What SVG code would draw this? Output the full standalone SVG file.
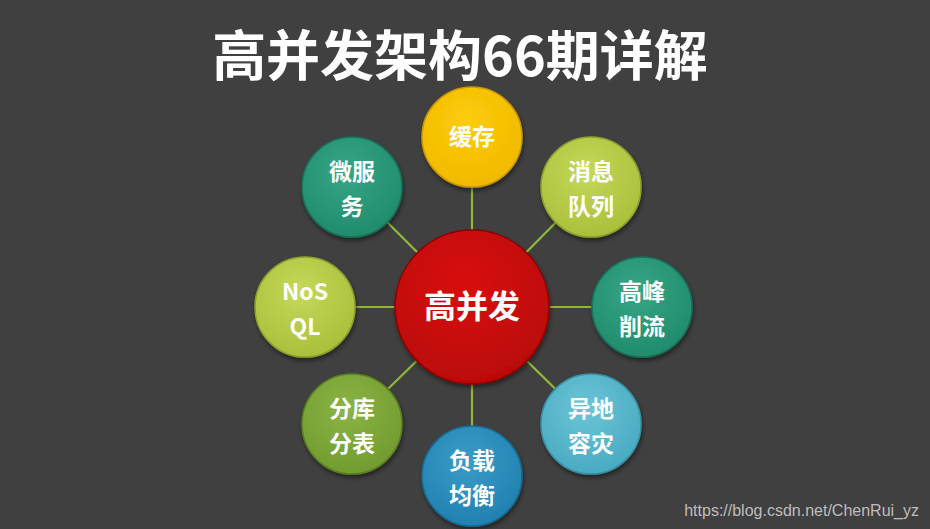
<svg xmlns="http://www.w3.org/2000/svg" width="930" height="529" viewBox="0 0 930 529">
<style>
.t{font-family:"Noto Sans CJK SC","Open Sans",sans-serif;font-weight:bold;fill:#fff;text-anchor:middle}
.n{font-size:23px}
.c{stroke-width:1.5}
.ln{stroke:#8fb83a;stroke-width:2.2}
</style>
<defs>
<filter id="sh" x="-20%" y="-20%" width="140%" height="140%"><feDropShadow dx="1" dy="3" stdDeviation="2" flood-color="#000" flood-opacity="0.45"/></filter>
<radialGradient id="gRed" cx="0.45" cy="0.35" r="0.7"><stop offset="0" stop-color="#d90d0d"/><stop offset="1" stop-color="#b80606"/></radialGradient>
<radialGradient id="gYel" cx="0.45" cy="0.35" r="0.7"><stop offset="0" stop-color="#fdcc0a"/><stop offset="1" stop-color="#f0b800"/></radialGradient>
<radialGradient id="gLime" cx="0.45" cy="0.35" r="0.7"><stop offset="0" stop-color="#c5d85a"/><stop offset="1" stop-color="#a8be38"/></radialGradient>
<radialGradient id="gTeal" cx="0.45" cy="0.35" r="0.7"><stop offset="0" stop-color="#36a685"/><stop offset="1" stop-color="#1f8a6a"/></radialGradient>
<radialGradient id="gCyan" cx="0.45" cy="0.35" r="0.7"><stop offset="0" stop-color="#6cc4d6"/><stop offset="1" stop-color="#46a9c0"/></radialGradient>
<radialGradient id="gBlue" cx="0.45" cy="0.35" r="0.7"><stop offset="0" stop-color="#3a9cc8"/><stop offset="1" stop-color="#1f7fae"/></radialGradient>
<radialGradient id="gGreen" cx="0.45" cy="0.35" r="0.7"><stop offset="0" stop-color="#8cb445"/><stop offset="1" stop-color="#6f9a2e"/></radialGradient>
</defs>
<rect width="930" height="529" fill="#404040"/>
<text class="t" x="460" y="76" font-size="54">高并发架构66期详解</text>
<g id="connectors">
<line class="ln" x1="472" y1="307" x2="472" y2="137"/>
<line class="ln" x1="472" y1="307" x2="591" y2="187"/>
<line class="ln" x1="472" y1="307" x2="642" y2="307"/>
<line class="ln" x1="472" y1="307" x2="591" y2="424"/>
<line class="ln" x1="472" y1="307" x2="472" y2="476"/>
<line class="ln" x1="472" y1="307" x2="352" y2="424"/>
<line class="ln" x1="472" y1="307" x2="305" y2="307"/>
<line class="ln" x1="472" y1="307" x2="352" y2="187"/>
</g>
<g id="center"><circle cx="472" cy="307" r="77" fill="url(#gRed)" stroke="#8e0505" class="c" filter="url(#sh)"/><text class="t" x="472" y="318" font-size="32">高并发</text></g>
<g id="cache"><circle cx="472" cy="137" r="50" fill="url(#gYel)" stroke="#c99800" class="c" filter="url(#sh)"/><text class="t n" x="472" y="145">缓存</text></g>
<g id="mq"><circle cx="591" cy="187" r="50" fill="url(#gLime)" stroke="#8ea02c" class="c" filter="url(#sh)"/><text class="t n" x="591" y="180">消息</text><text class="t n" x="591" y="215">队列</text></g>
<g id="peak"><circle cx="642" cy="307" r="50" fill="url(#gTeal)" stroke="#17705a" class="c" filter="url(#sh)"/><text class="t n" x="642" y="300">高峰</text><text class="t n" x="642" y="335">削流</text></g>
<g id="dr"><circle cx="591" cy="424" r="50" fill="url(#gCyan)" stroke="#3890a5" class="c" filter="url(#sh)"/><text class="t n" x="591" y="417">异地</text><text class="t n" x="591" y="452">容灾</text></g>
<g id="lb"><circle cx="472" cy="476" r="50" fill="url(#gBlue)" stroke="#186a92" class="c" filter="url(#sh)"/><text class="t n" x="472" y="469">负载</text><text class="t n" x="472" y="504">均衡</text></g>
<g id="shard"><circle cx="352" cy="424" r="50" fill="url(#gGreen)" stroke="#5a7f24" class="c" filter="url(#sh)"/><text class="t n" x="352" y="417">分库</text><text class="t n" x="352" y="452">分表</text></g>
<g id="nosql"><circle cx="305" cy="307" r="50" fill="url(#gLime)" stroke="#8ea02c" class="c" filter="url(#sh)"/><text class="t n" x="305" y="300">NoS</text><text class="t n" x="305" y="335">QL</text></g>
<g id="micro"><circle cx="352" cy="187" r="50" fill="url(#gTeal)" stroke="#17705a" class="c" filter="url(#sh)"/><text class="t n" x="352" y="180">微服</text><text class="t n" x="352" y="215">务</text></g>
<text x="919" y="516" font-family="Liberation Sans,Arial,sans-serif" font-size="16" fill="#bdbdbd" text-anchor="end">https://blog.csdn.net/ChenRui_yz</text>
</svg>
